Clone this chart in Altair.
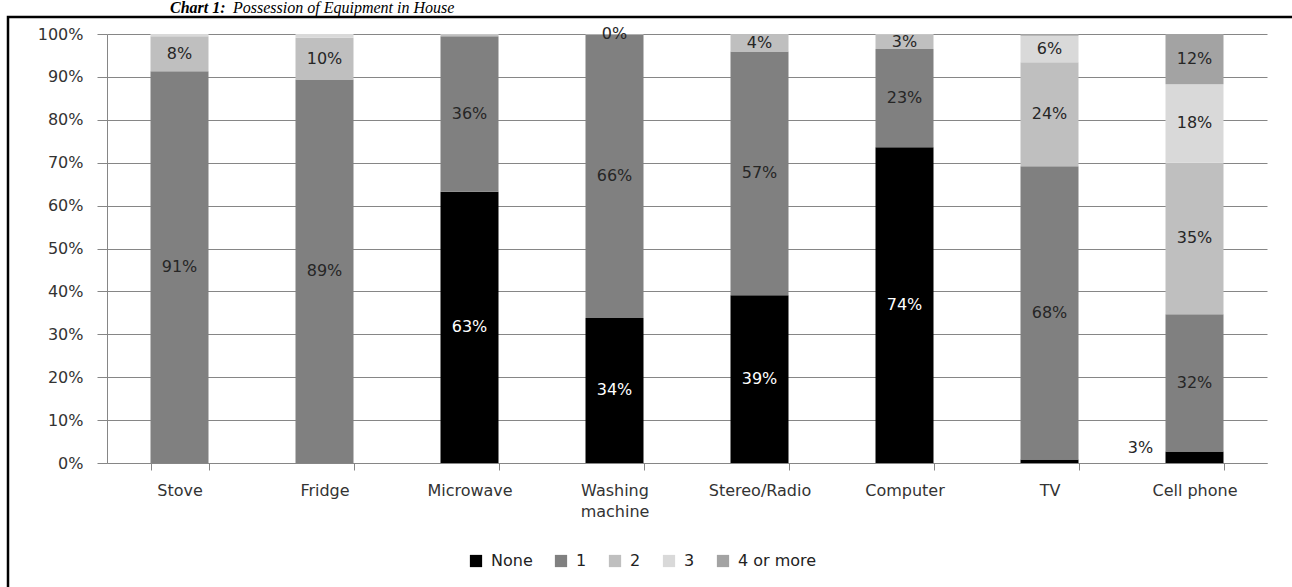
import altair as alt
import pandas as pd

# ---- data ----
categories = ["Stove", "Fridge", "Microwave", "Washing machine",
              "Stereo/Radio", "Computer", "TV", "Cell phone"]
series = ["None", "1", "2", "3", "4 or more"]

none_vals = [0.0, 0.0, 63.2, 33.8, 39.1, 73.6, 0.8, 2.7]
one_vals = [91.3, 89.4, 36.3, 66.0, 56.8, 22.9, 68.4, 32.0]
two_vals = [8.2, 9.7, 0.3, 0.2, 4.0, 3.3, 24.2, 35.3]
three_vals = [0.5, 0.9, 0.2, 0.0, 0.1, 0.2, 6.2, 18.3]
four_vals = [0.0, 0.0, 0.0, 0.0, 0.0, 0.0, 0.4, 11.7]

# label flags: 0 = no label, 1 = label inside segment, 2 = label beside the bar
none_lab = [0, 0, 1, 1, 1, 1, 0, 2]
one_lab = [1, 1, 1, 1, 1, 1, 1, 1]
two_lab = [1, 1, 0, 1, 1, 1, 1, 1]
three_lab = [0, 0, 0, 0, 0, 0, 1, 1]
four_lab = [0, 0, 0, 0, 0, 0, 0, 1]

y_ticks = [0, 10, 20, 30, 40, 50, 60, 70, 80, 90, 100]
title_bold = "Chart 1:"
title_rest = "Possession of Equipment in House"

colors = ["#000000", "#808080", "#bfbfbf", "#d9d9d9", "#a3a3a3"]

all_vals = [none_vals, one_vals, two_vals, three_vals, four_vals]
all_labs = [none_lab, one_lab, two_lab, three_lab, four_lab]
rows = []
for i, c in enumerate(categories):
    for j, s in enumerate(series):
        rows.append({"category": c, "series": s, "order": j,
                     "value": all_vals[j][i], "lab": all_labs[j][i]})
df = pd.DataFrame(rows)

FONT = "DejaVu Sans"
GRID = "#868686"
TXT = "#333333"
FS = 16

x_axis = alt.Axis(title=None, labelAngle=0, tickBand="extent", tickSize=7,
                  tickColor=GRID, domainColor=GRID, labelFont=FONT,
                  labelFontSize=FS, labelColor=TXT, labelPadding=12,
                  labelLineHeight=21, grid=False,
                  labelExpr="datum.label == 'Washing machine' ? ['Washing', 'machine'] : datum.label")
y_axis = alt.Axis(title=None, values=y_ticks, labelExpr="datum.value + '%'",
                  tickSize=10, tickColor=GRID, domainColor=GRID, grid=True,
                  gridColor=GRID, gridWidth=1, labelFont=FONT, labelFontSize=FS,
                  labelColor=TXT, labelPadding=14)
x_scale = alt.Scale(paddingInner=0.6, paddingOuter=0.3)
y_scale = alt.Scale(domain=[0, 100], nice=False)

x_enc = alt.X("category:N", sort=categories, scale=x_scale, axis=x_axis)

bars = alt.Chart(df).mark_bar().encode(
    x=x_enc,
    y=alt.Y("value:Q", stack="zero", scale=y_scale, axis=y_axis),
    color=alt.Color("series:N", sort=series,
                    scale=alt.Scale(domain=series, range=colors),
                    legend=alt.Legend(title=None, orient="none", legendX=361, legendY=519,
                                      direction="horizontal", symbolType="square",
                                      symbolSize=150, symbolStrokeWidth=0,
                                      labelFont=FONT, labelFontSize=FS, labelColor="#222222",
                                      columnPadding=20, labelOffset=7, padding=0)),
    order=alt.Order("order:Q", sort="ascending"),
)

lab_base = alt.Chart(df).transform_stack(
    stack="value", groupby=["category"], as_=["y0", "y1"],
    sort=[alt.SortField("order", order="ascending")]
).transform_calculate(
    mid="(datum.y0 + datum.y1) / 2",
    txt="format(datum.value, '.0f') + '%'",
)

def text_layer(filt, color, **kw):
    return lab_base.transform_filter(filt).mark_text(
        font=FONT, fontSize=FS, color=color, **kw
    ).encode(
        x=x_enc,
        y=alt.Y("mid:Q", scale=y_scale, axis=y_axis),
        text="txt:N",
    )

lab_white = text_layer("datum.lab == 1 && datum.series == 'None'", "#ffffff")
lab_dark = text_layer("datum.lab == 1 && datum.series != 'None'", "#262626")
lab_side = text_layer("datum.lab == 2", "#262626", dx=-54, dy=-9)

one = pd.DataFrame({"k": [0]})
border = alt.Chart(one).mark_rect(filled=False, stroke="#000000", strokeWidth=2.5).encode(
    x=alt.value(-99), x2=alt.value(1200), y=alt.value(-17), y2=alt.value(620))
t1 = alt.Chart(one).mark_text(font="Liberation Serif", fontSize=16, fontWeight="bold",
                              fontStyle="italic", align="left", baseline="alphabetic",
                              color="#000000").encode(
    x=alt.value(63), y=alt.value(-21), text=alt.value(title_bold))
t2 = alt.Chart(one).mark_text(font="Liberation Serif", fontSize=16,
                              fontStyle="italic", align="left", baseline="alphabetic",
                              color="#000000").encode(
    x=alt.value(126), y=alt.value(-21), text=alt.value(title_rest))

chart = alt.layer(bars, lab_white, lab_dark, lab_side, border, t1, t2).properties(
    width=1160, height=429, autosize="none",
    padding={"left": 107, "top": 34, "right": 25, "bottom": 124},
    background="#ffffff",
).configure_view(stroke=None)

chart.save("out.html", embed_options={"renderer": "svg", "actions": False})
